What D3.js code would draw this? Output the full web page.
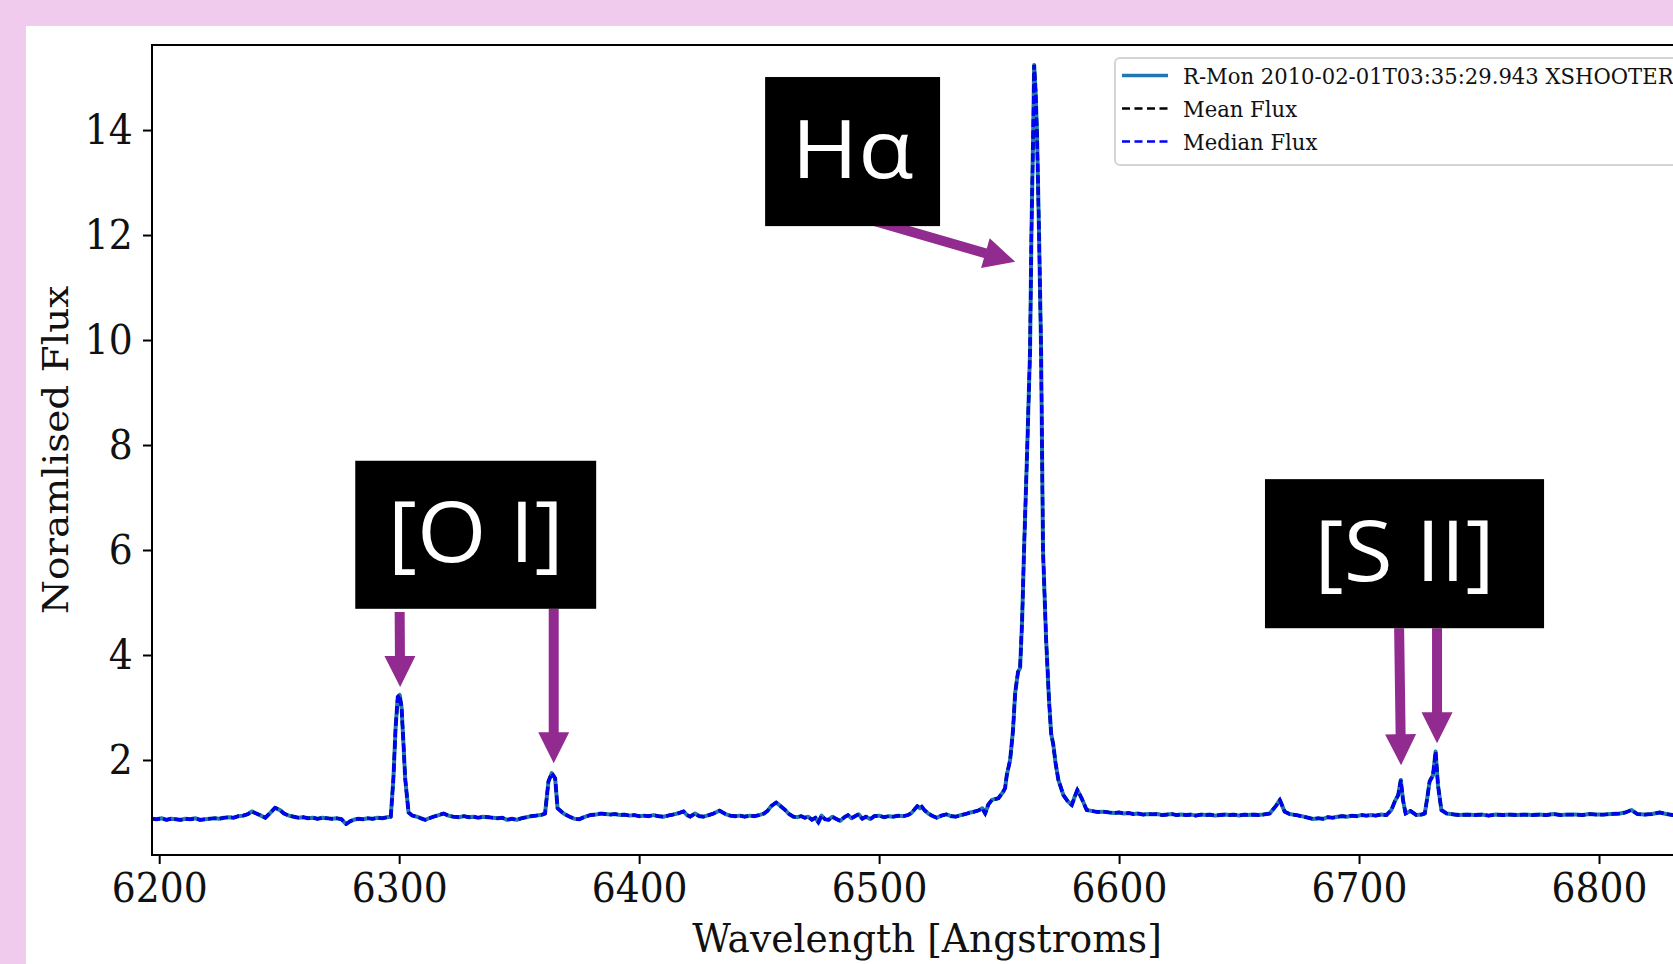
<!DOCTYPE html>
<html>
<head>
<meta charset="utf-8">
<script src="https://cdn.jsdelivr.net/npm/d3@7"></script>
<style>
  html, body { margin: 0; padding: 0; background: #f0cbee; overflow: hidden; }
  svg { display: block; }
</style>
</head>
<body>
<svg id="chart" width="1673" height="964"></svg>
<script>
// ---- Data ---------------------------------------------------------
// one line per stretch of the spectrum, WAVELENGTH and FLUX line up row by row

const WAVELENGTH = [
  /* 6197-6296 */ 6197, 6199, 6201, 6203, 6205, 6207, 6209, 6211, 6213, 6215, 6217, 6219, 6221, 6223, 6225, 6227, 6229, 6231, 6233, 6235, 6237, 6238.6, 6240, 6242, 6244.2, 6246, 6248.3, 6250.5, 6252, 6254, 6256, 6258, 6260, 6262, 6264, 6266, 6268, 6270, 6272, 6274, 6276, 6277.9, 6279.5, 6281, 6283, 6285, 6287, 6289, 6291, 6293, 6295, 6296.5,
  /* [O I] 6300 */ 6297.6, 6298.5, 6299.4, 6300.2, 6301, 6301.8, 6302.5, 6303.9,
  /* 6305-6361 */ 6305.5, 6307.4, 6309, 6310.8, 6312.5, 6314.3, 6316.5, 6318.5, 6320.5, 6322.6, 6325, 6327, 6329, 6331, 6333, 6335, 6337, 6339, 6341, 6343, 6344.9, 6347, 6349, 6351, 6353, 6355, 6357, 6359, 6360.8,
  /* [O I] 6363 */ 6362.2, 6363.6, 6365, 6366,
  /* 6368-6452 */ 6368.5, 6371, 6373, 6375, 6377, 6379.6, 6382, 6384, 6386, 6388, 6390, 6392, 6394, 6396, 6398, 6400, 6402, 6404, 6406, 6408, 6410, 6412, 6414, 6416, 6418.5, 6420, 6421.3, 6423.3, 6425, 6426.8, 6429, 6431, 6433.5, 6436, 6438, 6440, 6442, 6444, 6446, 6448, 6450, 6452,
  /* 6453-6544 */ 6453.5, 6455, 6457.1, 6459, 6460.8, 6462.5, 6464.3, 6466, 6467.5, 6469, 6470.5, 6472, 6473.5, 6474.7, 6476, 6477.5, 6479, 6480.5, 6482, 6483.8, 6485.5, 6487, 6488.5, 6490, 6491.5, 6493, 6494.5, 6496.3, 6498, 6500, 6502, 6504, 6506, 6508, 6510, 6512, 6513.5, 6514.8, 6515.9, 6517, 6517.8, 6519, 6520.5, 6522, 6524, 6526, 6528, 6530, 6532, 6534, 6536, 6538, 6540, 6541.5, 6543, 6544.2,
  /* H-alpha */ 6545.5, 6547, 6549.7, 6551.5, 6552.5, 6553.2, 6554.6, 6555.8, 6556.7, 6557.9, 6558.75, 6559.6, 6560.4, 6561.7, 6562.9, 6563.5, 6564.2, 6564.6, 6565.2, 6565.8, 6566.7, 6567.5, 6568.3, 6569.6, 6570.8, 6571.7, 6572.6, 6573.5, 6574.7, 6576.8, 6578.5, 6580.3, 6581.5, 6582.6, 6584.4, 6586.5,
  /* 6588-6663 */ 6588.5, 6591, 6593.5, 6596, 6598, 6600, 6602, 6604, 6606, 6608, 6610, 6612, 6614, 6616, 6618, 6620, 6622, 6624, 6626, 6628, 6630, 6632, 6634, 6636, 6638, 6640, 6642, 6644, 6646, 6648, 6650, 6652, 6654, 6656, 6658, 6660, 6662.8,
  /* 6665-6711 */ 6665.6, 6667, 6669, 6671, 6673.9, 6676, 6678, 6680.8, 6683, 6685, 6687, 6689, 6691, 6693, 6695, 6697, 6699, 6701, 6703, 6705, 6707, 6709, 6711.4,
  /* [S II] */ 6713.5, 6714.9, 6716.3, 6717.4, 6718.3, 6719.4, 6721.4, 6723.9, 6726, 6727.4, 6728.5, 6729.4, 6730.8, 6731.9, 6732.9, 6734.3, 6736.5,
  /* 6739-6850 */ 6739, 6742, 6745, 6748, 6751, 6754, 6757, 6760, 6763, 6766, 6769, 6772, 6775, 6778, 6781, 6784, 6787, 6790, 6793, 6796, 6799, 6802, 6805, 6808.6, 6811, 6813.5, 6816, 6819, 6822, 6825.3, 6828, 6831, 6834, 6837, 6840, 6843, 6846, 6850
];

const FLUX = [
  /* 6197-6296 */ 0.88, 0.87, 0.89, 0.86, 0.88, 0.87, 0.86, 0.88, 0.87, 0.89, 0.86, 0.87, 0.88, 0.89, 0.88, 0.90, 0.91, 0.90, 0.93, 0.94, 0.97, 1.02, 0.99, 0.95, 0.90, 0.98, 1.09, 1.04, 0.98, 0.94, 0.92, 0.90, 0.91, 0.89, 0.90, 0.88, 0.90, 0.89, 0.88, 0.89, 0.87, 0.78, 0.83, 0.86, 0.88, 0.87, 0.89, 0.88, 0.90, 0.89, 0.91, 0.92,
  /* [O I] 6300 */ 1.65, 2.6, 3.2, 3.24, 3.0, 2.3, 1.65, 1.0,
  /* 6305-6361 */ 0.94, 0.92, 0.89, 0.86, 0.89, 0.92, 0.95, 0.98, 0.94, 0.92, 0.91, 0.93, 0.91, 0.92, 0.90, 0.92, 0.91, 0.90, 0.89, 0.90, 0.86, 0.88, 0.86, 0.89, 0.91, 0.93, 0.94, 0.95, 0.98,
  /* [O I] 6363 */ 1.59, 1.75, 1.65, 1.08,
  /* 6368-6452 */ 0.98, 0.92, 0.88, 0.87, 0.91, 0.95, 0.96, 0.98, 0.97, 0.96, 0.97, 0.95, 0.96, 0.94, 0.95, 0.93, 0.94, 0.93, 0.95, 0.93, 0.92, 0.94, 0.96, 0.98, 1.02, 0.95, 0.92, 0.98, 0.93, 0.92, 0.95, 0.98, 1.035, 0.97, 0.94, 0.93, 0.94, 0.92, 0.94, 0.93, 0.95, 0.98,
  /* 6453-6544 */ 1.03, 1.12, 1.19, 1.12, 1.05, 0.97, 0.92, 0.91, 0.93, 0.90, 0.92, 0.86, 0.90, 0.81, 0.94, 0.87, 0.86, 0.92, 0.88, 0.84, 0.91, 0.95, 0.89, 0.93, 0.965, 0.88, 0.92, 0.875, 0.93, 0.94, 0.91, 0.93, 0.92, 0.94, 0.93, 0.95, 0.99, 1.06, 1.12, 1.08, 1.11, 1.04, 0.98, 0.94, 0.90, 0.94, 0.965, 0.93, 0.92, 0.95, 0.97, 1.0, 1.02, 1.04, 1.08, 0.98,
  /* H-alpha */ 1.15, 1.24, 1.27, 1.38, 1.46, 1.71, 2.0, 2.57, 3.28, 3.68, 3.75, 4.67, 6.0, 7.9, 9.8, 12.1, 13.94, 15.24, 14.76, 13.94, 11.9, 9.8, 6.0, 4.29, 3.14, 2.5, 2.29, 1.95, 1.62, 1.33, 1.22, 1.14, 1.3, 1.43, 1.27, 1.047,
  /* 6588-6663 */ 1.03, 1.01, 1.016, 1.0, 0.99, 1.0, 0.98, 0.99, 0.97, 0.98, 0.96, 0.97, 0.965, 0.97, 0.95, 0.96, 0.97, 0.95, 0.96, 0.95, 0.96, 0.94, 0.96, 0.95, 0.96, 0.94, 0.95, 0.96, 0.95, 0.96, 0.94, 0.96, 0.95, 0.96, 0.95, 0.96, 0.98,
  /* 6665-6711 */ 1.14, 1.24, 1.016, 0.97, 0.95, 0.93, 0.91, 0.876, 0.89, 0.88, 0.91, 0.90, 0.92, 0.93, 0.92, 0.94, 0.93, 0.95, 0.94, 0.95, 0.94, 0.96, 0.95,
  /* [S II] */ 1.05, 1.21, 1.33, 1.62, 1.24, 0.98, 1.03, 0.95, 0.96, 0.98, 1.3, 1.59, 1.71, 2.16, 1.52, 1.047, 0.98,
  /* 6739-6850 */ 0.965, 0.95, 0.96, 0.95, 0.96, 0.94, 0.96, 0.95, 0.96, 0.95, 0.96, 0.95, 0.96, 0.95, 0.97, 0.95, 0.96, 0.96, 0.95, 0.97, 0.96, 0.96, 0.97, 0.98, 1.0, 1.047, 0.97, 0.96, 0.97, 1.0, 0.97, 0.95, 0.97, 0.96, 0.97, 0.96, 0.97, 0.96
];

const X_TICKS = [6200, 6300, 6400, 6500, 6600, 6700, 6800];
const Y_TICKS = [2, 4, 6, 8, 10, 12, 14];

const LEGEND_LABELS = ['R-Mon 2010-02-01T03:35:29.943 XSHOOTER', 'Mean Flux', 'Median Flux'];
const X_LABEL = 'Wavelength [Angstroms]';
const Y_LABEL = 'Noramlised Flux';

// line annotations, placed in data units (wavelength, flux)
const LINE_LABELS = ['Hα', '[O I]', '[S II]'];
const LABEL_BOXES = [
  { x0: 6452.5, x1: 6525.4, y0: 15.01, y1: 12.17, size: 80, len: 122 },
  { x0: 6281.7, x1: 6382.1, y0: 7.70,  y1: 4.88,  size: 84, len: 176 },
  { x0: 6660.8, x1: 6777.1, y0: 7.35,  y1: 4.51,  size: 84, len: 180 },
];
const ARROWS = [
  { from: [6496.2, 12.29], to: [6556.7, 11.49] },
  { from: [6300.2, 4.82],  to: [6300.4, 3.39] },
  { from: [6364.4, 4.88],  to: [6364.4, 1.94] },
  { from: [6716.7, 4.51],  to: [6717.5, 1.90] },
  { from: [6732.5, 4.51],  to: [6732.5, 2.32] },
];

// ---- Layout ---------------------------------------------------------

const W = 1673, H = 964;
const PLOT = { left: 152, top: 45, right: 1719, bottom: 855 };
const SQUISH = 'scale(0.92,1)';
const SERIF = 'DejaVu Serif, serif';
const PURPLE = '#922b8f';

const svg = d3.select('#chart');

svg.append('rect').attr('width', W).attr('height', H).attr('fill', '#f0cbee');
svg.append('rect').attr('x', 26).attr('y', 26).attr('width', W - 26).attr('height', H - 26).attr('fill', '#ffffff');

const x = d3.scaleLinear().domain([6197, 6850]).range([PLOT.left, PLOT.right]);
const y = d3.scaleLinear().domain([0.19, 15.62]).range([PLOT.bottom, PLOT.top]);

svg.append('clipPath').attr('id', 'plot-clip')
  .append('rect')
  .attr('x', PLOT.left).attr('y', PLOT.top)
  .attr('width', PLOT.right - PLOT.left).attr('height', PLOT.bottom - PLOT.top);

// ---- Spectrum -------------------------------------------------------

const points = WAVELENGTH.map((w, i) => [w, FLUX[i]]);
const line = d3.line().x(d => x(d[0])).y(d => y(d[1]));

const lines = svg.append('g').attr('clip-path', 'url(#plot-clip)');
lines.append('path').datum(points)
  .attr('d', line).attr('fill', 'none')
  .attr('stroke', '#1f77b4').attr('stroke-width', 4).attr('stroke-linejoin', 'round');
lines.append('path').datum(points)
  .attr('d', line).attr('fill', 'none')
  .attr('stroke', '#000000').attr('stroke-width', 3.2).attr('stroke-dasharray', '8 3.5');
lines.append('path').datum(points)
  .attr('d', line).attr('fill', 'none')
  .attr('stroke', '#0000ff').attr('stroke-width', 3.2).attr('stroke-dasharray', '8 3.5');

// ---- Axes -----------------------------------------------------------

const xAxis = svg.append('g')
  .attr('transform', `translate(0,${PLOT.bottom})`)
  .call(d3.axisBottom(x).tickValues(X_TICKS).tickFormat(d3.format('d')).tickSize(9).tickPadding(9));

const yAxis = svg.append('g')
  .attr('transform', `translate(${PLOT.left},0)`)
  .call(d3.axisLeft(y).tickValues(Y_TICKS).tickFormat(d3.format('d')).tickSize(9).tickPadding(12));

[xAxis, yAxis].forEach(g => {
  g.select('.domain').remove();
  g.selectAll('.tick line').attr('stroke', '#000').attr('stroke-width', 2);
  g.selectAll('.tick text')
    .attr('fill', '#111')
    .attr('font-family', SERIF)
    .attr('font-size', 41)
    .attr('transform', SQUISH);
});

// frame
svg.append('rect')
  .attr('x', PLOT.left).attr('y', PLOT.top)
  .attr('width', PLOT.right - PLOT.left).attr('height', PLOT.bottom - PLOT.top)
  .attr('fill', 'none').attr('stroke', '#000').attr('stroke-width', 2);

svg.append('text')
  .attr('transform', 'translate(927,952) scale(0.94,1)')
  .attr('text-anchor', 'middle')
  .attr('font-family', SERIF).attr('font-size', 40).attr('fill', '#111')
  .text(X_LABEL);

svg.append('text')
  .attr('transform', `translate(68,450) ${SQUISH} rotate(-90)`)
  .attr('text-anchor', 'middle')
  .attr('font-family', SERIF).attr('font-size', 39).attr('fill', '#111')
  .text(Y_LABEL);

// ---- Legend ---------------------------------------------------------

const legend = svg.append('g');
legend.append('rect')
  .attr('x', 1115).attr('y', 58).attr('width', 700).attr('height', 107)
  .attr('rx', 5)
  .attr('fill', 'rgba(255,255,255,0.85)')
  .attr('stroke', '#d4d4d4').attr('stroke-width', 2);

const HANDLES = [
  { stroke: '#1f77b4', dash: null, width: 3.4 },
  { stroke: '#000000', dash: '8 4.5', width: 2.6 },
  { stroke: '#0000ff', dash: '8 4.5', width: 2.6 },
];

LEGEND_LABELS.forEach((label, i) => {
  const base = 84 + i * 33;
  legend.append('line')
    .attr('x1', 1122).attr('x2', 1168)
    .attr('y1', base - 8.5).attr('y2', base - 8.5)
    .attr('stroke', HANDLES[i].stroke)
    .attr('stroke-width', HANDLES[i].width)
    .attr('stroke-dasharray', HANDLES[i].dash);
  legend.append('text')
    .attr('transform', `translate(1183,${base}) ${SQUISH}`)
    .attr('font-family', SERIF).attr('font-size', 23).attr('fill', '#111')
    .text(label);
});

// ---- Annotations ----------------------------------------------------

function arrowPath(p0, p1) {
  const shaft = 10, headW = 31, headL = 31;
  const dx = p1[0] - p0[0], dy = p1[1] - p0[1];
  const len = Math.hypot(dx, dy);
  const ux = dx / len, uy = dy / len;
  const nx = -uy, ny = ux;
  const bx = p1[0] - ux * headL, by = p1[1] - uy * headL;
  const pts = [
    [p0[0] + nx * shaft / 2, p0[1] + ny * shaft / 2],
    [bx + nx * shaft / 2, by + ny * shaft / 2],
    [bx + nx * headW / 2, by + ny * headW / 2],
    p1,
    [bx - nx * headW / 2, by - ny * headW / 2],
    [bx - nx * shaft / 2, by - ny * shaft / 2],
    [p0[0] - nx * shaft / 2, p0[1] - ny * shaft / 2],
  ];
  return 'M' + pts.map(p => p.join(',')).join('L') + 'Z';
}

const annot = svg.append('g');

annot.selectAll('path.arrow')
  .data(ARROWS)
  .join('path')
  .attr('class', 'arrow')
  .attr('d', d => arrowPath([x(d.from[0]), y(d.from[1])], [x(d.to[0]), y(d.to[1])]))
  .attr('fill', PURPLE);

LABEL_BOXES.forEach((b, i) => {
  const bx = x(b.x0), by = y(b.y0);
  const bw = x(b.x1) - bx, bh = y(b.y1) - by;
  annot.append('rect')
    .attr('x', bx).attr('y', by).attr('width', bw).attr('height', bh)
    .attr('fill', '#000');
  annot.append('text')
    .attr('x', bx + bw / 2)
    .attr('y', by + bh / 2 + b.size * 0.33)
    .attr('text-anchor', 'middle')
    .attr('font-family', 'Open Sans, Noto Sans, sans-serif')
    .attr('font-size', b.size)
    .attr('fill', '#fff')
    .attr('textLength', b.len)
    .attr('lengthAdjust', 'spacingAndGlyphs')
    .text(LINE_LABELS[i]);
});
</script>
</body>
</html>
